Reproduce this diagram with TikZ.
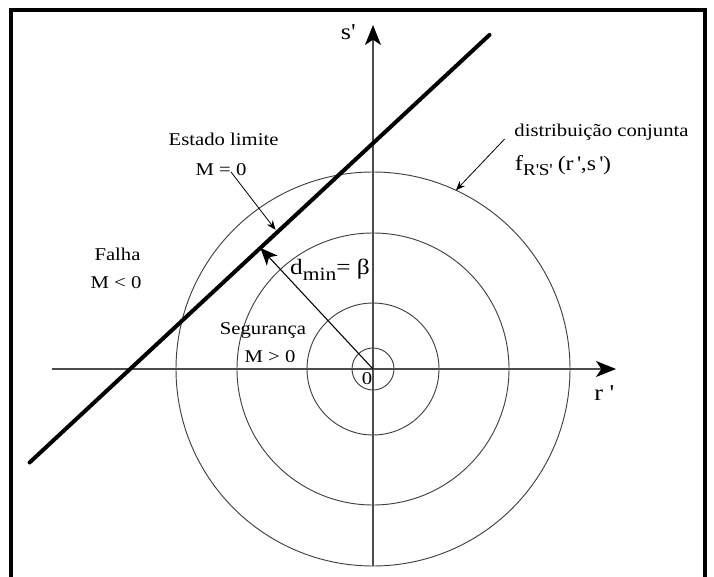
\documentclass[tikz,border=0pt]{standalone}
\usepackage{fontspec}
\setmainfont{Liberation Serif}[FakeStretch=1.15]
\usepackage{tikz}
\usetikzlibrary{arrows.meta,calc}

\begin{document}
\begin{tikzpicture}[
x=0.75pt,
y=0.75pt,
every node/.style={font=\fontsize{13.5}{16}\selectfont,inner sep=0pt},
frame/.style={draw,line width=2.5pt},
axis/.style={draw=black!70,line width=0.9pt,-{Stealth[length=15pt,width=12pt,inset=4pt,color=black]}},
ring/.style={draw=black!75,line width=0.7pt},
limit/.style={line width=3pt,line cap=round},
dist/.style={line width=0.8pt,-{Stealth[length=13pt,width=11pt,inset=3.5pt]}},
pointer/.style={line width=0.6pt,-{Stealth[length=7pt,width=5.5pt]}},
axlbl/.style={font=\fontsize{17}{20}\selectfont}
]
\useasboundingbox (0,0) rectangle (714,576);
\clip (0,0) rectangle (714,576);
\draw[frame] (11,-6) rectangle (705,566);

\coordinate (O) at (373,207);
\coordinate (rend) at (52,207);
\coordinate (rtip) at (616,207);
\coordinate (send) at (373,10);
\coordinate (stip) at (373,551);
\coordinate (lsA) at (29.6,113.5);
\coordinate (lsB) at (489.5,541.1);
\coordinate (foot) at ($(lsA)!(O)!(lsB)$);
\coordinate (estfrom) at (231,404);
\coordinate (estto) at (275.5,346.2);
\coordinate (distfrom) at (504.6,437);
\coordinate (distto) at ($(O)+(65.1:197)$);

% circles of the joint density
\foreach \rad in {21,66,136,197}
  \draw[ring] (O) circle (\rad);

% axes
\draw[axis] (rend) -- (rtip);
\draw[axis] (send) -- (stip);

% limit state line
\draw[limit] (lsA) -- (lsB);

\draw[dist] (O) -- (foot);
\draw[pointer] (estfrom) -- (estto);
\draw[pointer] (distfrom) -- (distto);

\node[axlbl] (slbl) at (348,544) {s\textquotesingle};
\node[axlbl] (rlbl) at (604,182.6) {r \textquotesingle};
\node (estado) at (223.6,436.3) {Estado limite};
\node (mzero) at (221,406) {M = 0};
\node (falha) at (117.5,321.6) {Falha};
\node (mneg) at (116,293.6) {M < 0};
\node (seguranca) at (263,246) {Segurança};
\node (mpos) at (270,219.4) {M > 0};
\node (zero) at (367,197.3) {0};
\node[font=\fontsize{16.5}{19}\selectfont] (dmin) at (330,306) {d\raisebox{-4.5pt}{\fontsize{14}{14}\selectfont min}= β};
\node (distrib) at (601.5,443.6) {distribuição conjunta};
\node[anchor=west] (fdens) at (514.6,410.6) {{\fontsize{16}{19}\selectfont f}\raisebox{-4pt}{\fontsize{12.5}{14}\selectfont R\textquotesingle S\textquotesingle}\hspace{4pt}{\fontsize{15.5}{18}\selectfont (r\,\textquotesingle,s\,\textquotesingle)}};
\end{tikzpicture}
\end{document}
